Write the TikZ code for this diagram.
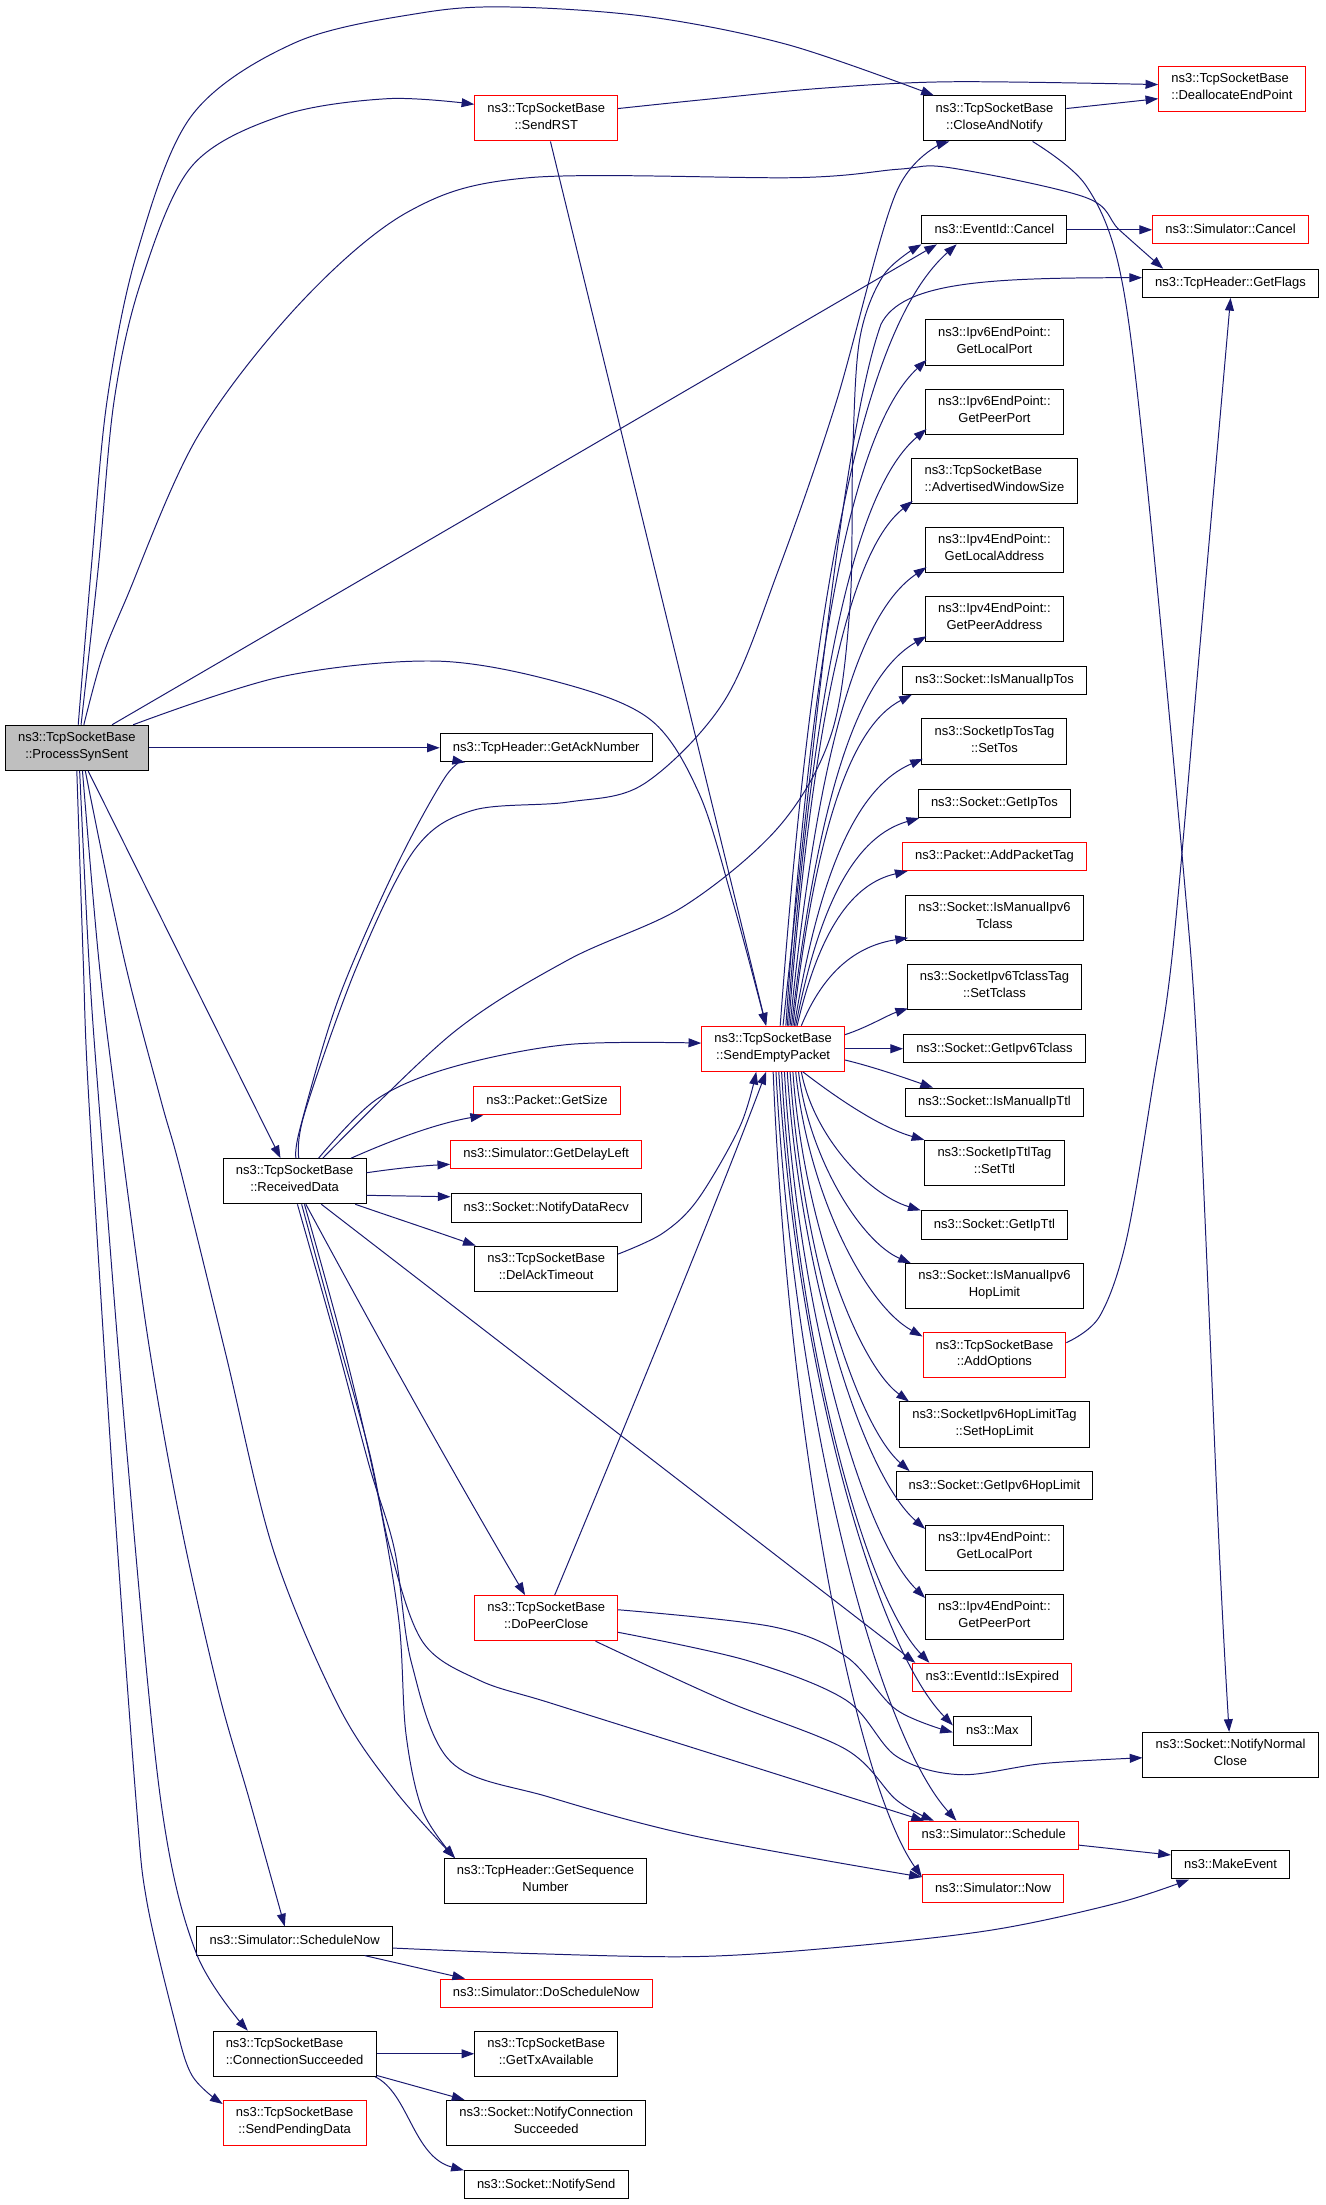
\documentclass[tikz,border=0pt]{standalone}
\usepackage{fontspec}
\setmainfont{Liberation Sans}
\usetikzlibrary{arrows.meta,calc}
\definecolor{edgecol}{HTML}{191970}
\definecolor{redline}{HTML}{FF0000}
\definecolor{pssfill}{HTML}{BFBFBF}
\begin{document}
\begin{tikzpicture}[x=1pt,y=-1pt,
  box/.style={draw=black, line width=0.7pt, fill=white, inner xsep=9pt, inner ysep=0pt,
    align=center, font=\fontsize{9.2pt}{12pt}\selectfont, execute at begin node=\strut},
  one/.style={box, minimum height=20pt},
  two/.style={box, minimum height=32pt},
  redb/.style={draw=redline},
  arr/.style={draw=edgecol, line width=0.7pt, -{Triangle[length=9pt,width=6.3pt]}},
  sm/.style={smooth, tension=0.55}]
\fill[white] (0,0) rectangle (940,1564.3);
\useasboundingbox (0,0) rectangle (940,1564.3);

% ---------- nodes ----------
\node[two, fill=pssfill] (pss) at (54.5,530.5) {ns3::TcpSocketBase\\\strut ::ProcessSynSent};
\node[two, redb] (sendrst) at (387.5,84) {ns3::TcpSocketBase\\\strut ::SendRST};
\node[two] (can) at (705.5,84) {ns3::TcpSocketBase\\\strut ::CloseAndNotify};
\node[two, redb, align=left] (dealloc) at (874,63) {ns3::TcpSocketBase\\\strut ::DeallocateEndPoint};
\node[one] (cancel) at (705.5,163) {ns3::EventId::Cancel};
\node[one, redb] (simcancel) at (873,163) {ns3::Simulator::Cancel};
\node[one] (getflags) at (873,201) {ns3::TcpHeader::GetFlags};
\node[two] (v6lp) at (705.5,243) {ns3::Ipv6EndPoint::\\\strut GetLocalPort};
\node[two] (v6pp) at (705.5,292) {ns3::Ipv6EndPoint::\\\strut GetPeerPort};
\node[two, align=left] (adv) at (705.5,341) {ns3::TcpSocketBase\\\strut ::AdvertisedWindowSize};
\node[two] (v4la) at (705.5,390) {ns3::Ipv4EndPoint::\\\strut GetLocalAddress};
\node[two] (v4pa) at (705.5,439) {ns3::Ipv4EndPoint::\\\strut GetPeerAddress};
\node[one] (ipmtos) at (705.5,482.5) {ns3::Socket::IsManualIpTos};
\node[two] (settos) at (705.5,526) {ns3::SocketIpTosTag\\\strut ::SetTos};
\node[one] (getiptos) at (705.5,570) {ns3::Socket::GetIpTos};
\node[one, redb] (addtag) at (705.5,607.6) {ns3::Packet::AddPacketTag};
\node[two] (ismv6tc) at (705.5,651) {ns3::Socket::IsManualIpv6\\\strut Tclass};
\node[two] (settc) at (705.5,700) {ns3::SocketIpv6TclassTag\\\strut ::SetTclass};
\node[one] (getv6tc) at (705.5,744) {ns3::Socket::GetIpv6Tclass};
\node[one] (ismttl) at (705.5,782) {ns3::Socket::IsManualIpTtl};
\node[two] (setttl) at (705.5,825) {ns3::SocketIpTtlTag\\\strut ::SetTtl};
\node[one] (getipttl) at (705.5,869) {ns3::Socket::GetIpTtl};
\node[two] (ismhl) at (705.5,912.5) {ns3::Socket::IsManualIpv6\\\strut HopLimit};
\node[two, redb] (addopt) at (705.5,961.5) {ns3::TcpSocketBase\\\strut ::AddOptions};
\node[two] (sethl) at (705.5,1010.6) {ns3::SocketIpv6HopLimitTag\\\strut ::SetHopLimit};
\node[one] (getv6hl) at (705.5,1054) {ns3::Socket::GetIpv6HopLimit};
\node[two] (v4lp) at (705.5,1098) {ns3::Ipv4EndPoint::\\\strut GetLocalPort};
\node[two] (v4pp) at (705.5,1147) {ns3::Ipv4EndPoint::\\\strut GetPeerPort};
\node[one, redb] (isexp) at (704,1190) {ns3::EventId::IsExpired};
\node[one] (max) at (704,1228) {ns3::Max};
\node[one, redb] (sched) at (705,1302) {ns3::Simulator::Schedule};
\node[one, redb] (now) at (704.5,1340) {ns3::Simulator::Now};
\node[two] (nnc) at (873,1245) {ns3::Socket::NotifyNormal\\\strut Close};
\node[one] (makeev) at (873,1323) {ns3::MakeEvent};
\node[two, redb] (sep) at (548.5,744) {ns3::TcpSocketBase\\\strut ::SendEmptyPacket};
\node[one] (getack) at (387.5,530.5) {ns3::TcpHeader::GetAckNumber};
\node[one, redb] (getsize) at (388,781) {ns3::Packet::GetSize};
\node[one, redb] (delayleft) at (387.5,819) {ns3::Simulator::GetDelayLeft};
\node[one] (ndr) at (387.5,857) {ns3::Socket::NotifyDataRecv};
\node[two] (delack) at (387.5,900) {ns3::TcpSocketBase\\\strut ::DelAckTimeout};
\node[two, redb] (dpc) at (387.5,1148) {ns3::TcpSocketBase\\\strut ::DoPeerClose};
\node[two] (seq) at (387,1334.5) {ns3::TcpHeader::GetSequence\\\strut Number};
\node[one, redb] (dosched) at (387.5,1414) {ns3::Simulator::DoScheduleNow};
\node[two] (txavail) at (387.5,1457) {ns3::TcpSocketBase\\\strut ::GetTxAvailable};
\node[two] (ncs) at (387.5,1506) {ns3::Socket::NotifyConnection\\\strut Succeeded};
\node[one] (nsend) at (387.5,1550) {ns3::Socket::NotifySend};
\node[two] (rd) at (209,838) {ns3::TcpSocketBase\\\strut ::ReceivedData};
\node[one] (schednow) at (209,1377) {ns3::Simulator::ScheduleNow};
\node[two, align=left] (connsucc) at (209,1457) {ns3::TcpSocketBase\\\strut ::ConnectionSucceeded};
\node[two, redb] (sendpend) at (209,1506) {ns3::TcpSocketBase\\\strut ::SendPendingData};

% ---------- helper coordinates ----------
\coordinate (pcS) at ($(pss.north)+(1,0)$);
\coordinate (pcE) at ($(can.north west)+(8,0)$);
\coordinate (psS) at ($(pss.north)+(3,0)$);
\coordinate (psE) at ($(sendrst.west)+(0,-10)$);
\coordinate (pgS) at ($(pss.north)+(5,0)$);
\coordinate (pgE) at ($(getflags.north west)+(15,0)$);
\coordinate (pepS) at ($(pss.north)+(40,0)$);
\coordinate (sepN1) at ($(sep.north)+(-5,0)$);
\coordinate (pqS) at ($(pss.south)+(6,0)$);
\coordinate (seqE) at ($(seq.north west)+(8,0)$);
\coordinate (pnS) at ($(pss.south)+(4,0)$);
\coordinate (pnE) at ($(schednow.north)+(-7,0)$);
\coordinate (pcsS) at ($(pss.south)+(2,0)$);
\coordinate (pcsE) at ($(connsucc.north west)+(25,0)$);
\coordinate (ppS) at (pss.south);
\coordinate (ppE) at ($(sendpend.north west)+(0,3)$);
\coordinate (sdS) at ($(sendrst.east)+(0,-7)$);
\coordinate (sdE) at ($(dealloc.west)+(0,-3)$);
\coordinate (cnS) at ($(can.south east)+(-24,0)$);
\coordinate (cnE) at ($(nnc.north)+(-1,0)$);
\coordinate (agS) at ($(addopt.east)+(0,-9)$);
\coordinate (rgS) at ($(rd.north)+(1,0)$);
\coordinate (rgE) at ($(getack.south west)+(18,0)$);
\coordinate (rcS) at ($(rd.north)+(3,0)$);
\coordinate (rcE) at ($(can.south west)+(19,0)$);
\coordinate (rkS) at ($(rd.north)+(20,0)$);
\coordinate (rsS) at ($(rd.north)+(17,0)$);
\coordinate (rsE) at ($(sep.west)+(0,-4)$);
\coordinate (rhS) at ($(rd.south)+(5,0)$);
\coordinate (rhE) at ($(sched.north west)+(11,0)$);
\coordinate (rnS) at ($(rd.south)+(2,0)$);
\coordinate (rnE) at ($(now.north west)+(0,2)$);
\coordinate (rqS) at ($(rd.south)+(7,0)$);
\coordinate (dmS) at ($(dpc.east)+(0,-6)$);
\coordinate (dmE) at ($(max.west)+(0,1)$);
\coordinate (dnS) at ($(dpc.east)+(0,10)$);
\coordinate (dnE) at ($(nnc.west)+(0,2)$);
\coordinate (dhS) at ($(dpc.south east)+(-16,0)$);
\coordinate (dhE) at ($(sched.north west)+(18,0)$);
\coordinate (daS) at ($(delack.north east)+(0,6)$);
\coordinate (daE) at ($(sep.south)+(-12,0)$);
\coordinate (smS) at ($(schednow.east)+(0,5)$);
\coordinate (smE) at ($(makeev.south west)+(13,0)$);

% ---------- edges from ProcessSynSent ----------
\draw[arr] plot[sm] coordinates {(pcS) (65,400) (76,284) (97,180) (136,82) (210,30) (300,9) (364,5) (461,12) (560,32) (pcE)};
\draw[arr] plot[sm] coordinates {(psS) (70,400) (81,284) (100,200) (136,118) (200,82) (275,70) (psE)};
\draw[arr] plot[sm] coordinates {(pgS) (72,468) (89,426) (140,310) (213,215) (290,150) (376,126) (566,126) (638,120) (674,119) (770,140) (794,163) (pgE)};
\draw[arr] ($(pss.north)+(25,0)$) -- ($(cancel.south west)+(11,0)$);
\draw[arr] plot[sm] coordinates {(pepS) (200,480) (310,469) (400,485) (462,511) (496,563) (520,640) (sepN1)};
\draw[arr] (pss.east) -- (getack.west);
\draw[arr] ($(pss.south)+(8,0)$) -- ($(rd.north)+(-10,0)$);
\draw[arr] plot[sm] coordinates {(pqS) (88,680) (114,780) (128,830) (160,960) (194,1100) (240,1210) (280,1270) (seqE)};
\draw[arr] plot[sm] coordinates {(pnS) (70,680) (82,780) (105,950) (128,1080) (155,1200) (177,1277) (pnE)};
\draw[arr] plot[sm] coordinates {(pcsS) (63,680) (70,780) (90,1030) (114,1277) (139,1385) (pcsE)};
\draw[arr] plot[sm] coordinates {(ppS) (59,680) (63,780) (80,1050) (96.5,1277) (104,1348) (123,1430) (136,1472) (ppE)};

% ---------- SendRST / CloseAndNotify / Cancel / AddOptions ----------
\draw[arr] plot[sm] coordinates {(sdS) (496,71) (583,62.6) (675,58) (sdE)};
\draw[arr] ($(sendrst.south)+(3,0)$) -- (sepN1);
\draw[arr] ($(can.east)+(0,-7)$) -- ($(dealloc.west)+(0,7)$);
\draw[arr] plot[sm] coordinates {(cnS) (770,131) (794,190) (811,317) (839,611) (850,760) (865,1100) (cnE)};
\draw[arr] (cancel.east) -- (simcancel.west);
\draw[arr] plot[sm] coordinates {(agS) (780,934) (799,880) (818,769) (832,674) (852,450) (getflags.south)};

% ---------- edges from ReceivedData ----------
\draw[arr] plot[sm] coordinates {(rgS) (213,800) (240,709) (281,615) (316,551) (rgE)};
\draw[arr] plot[sm] coordinates {(rcS) (216,790) (253,686) (294,603) (335,575) (403,569) (457,556) (514,497) (552,405) (593,286) (636,136) (rcE)};
\draw[arr] plot[sm] coordinates {(rkS) (321,733) (403,681) (485,643) (553,586) (590,520) (603,430) (605,320) (610,240) (627,195) (cancel.south west)};
\draw[arr] plot[sm] coordinates {(rsS) (267,780) (321,757) (403,741) (rsE)};
\draw[arr] ($(rd.north east)+(-11,0)$) .. controls (280,808) and (310,797) .. ($(getsize.south west)+(7,0)$);
\draw[arr] ($(rd.east)+(0,-6)$) .. controls (280,829) and (300,827) .. ($(delayleft.west)+(0,7)$);
\draw[arr] ($(rd.east)+(0,10)$) -- ($(ndr.west)+(0,-8)$);
\draw[arr] ($(rd.south east)+(-8,0)$) .. controls (280,864) and (310,874) .. ($(delack.north west)+(1,0)$);
\draw[arr] ($(rd.south)+(19,0)$) -- ($(isexp.north west)+(2,0)$);
\draw[arr] ($(rd.south)+(8,0)$) .. controls (290,990) and (345,1085) .. ($(dpc.north)+(-15,0)$);
\draw[arr] plot[sm] coordinates {(rhS) (240,950) (262,1030) (277,1100) (300,1165) (340,1192) (390,1208) (495,1241) (rhE)};
\draw[arr] plot[sm] coordinates {(rnS) (238,950) (262,1040) (280,1100) (292,1180) (320,1250) (390,1275) (495,1303) (rnE)};
\draw[arr] plot[sm] coordinates {(rqS) (245,960) (268,1060) (283,1150) (288,1230) (300,1285) (seqE)};

% ---------- DoPeerClose / DelAckTimeout ----------
\draw[arr] ($(dpc.north)+(6,0)$) .. controls (440,1020) and (510,850) .. ($(sep.south)+(-5,0)$);
\draw[arr] plot[sm] coordinates {(dmS) (548,1154) (600,1175) (636,1213) (dmE)};
\draw[arr] plot[sm] coordinates {(dnS) (530,1178) (600,1206) (636,1246) (681,1259) (741,1251) (dnE)};
\draw[arr] plot[sm] coordinates {(dhS) (513,1206) (600,1241) (636,1277) (dhE)};
\draw[arr] plot[sm] coordinates {(daS) (470,875) (495,851) (525,799) (daE)};

% ---------- ScheduleNow / Schedule / ConnectionSucceeded ----------
\draw[arr] ($(schednow.south east)+(-20,0)$) -- ($(dosched.north west)+(18,0)$);
\draw[arr] plot[sm] coordinates {(smS) (380,1386) (496,1388) (600,1381) (705,1369) (793,1350) (smE)};
\draw[arr] ($(sched.east)+(0,7)$) -- ($(makeev.west)+(0,-7)$);
\draw[arr] (connsucc.east) -- (txavail.west);
\draw[arr] ($(connsucc.south east)+(0,-1)$) -- ($(ncs.north west)+(13,0)$);
\draw[arr] ($(connsucc.south east)+(-1,0)$) .. controls (290,1485) and (293,1530) .. (nsend.north west);

% ---------- edges from SendEmptyPacket (upwards) ----------
\draw[arr] ($(sep.north)+(5,0)$) .. controls (578,395) and (616,229) .. ($(cancel.south west)+(25,0)$);
\draw[arr] ($(sep.north)+(7,0)$) .. controls (580,500) and (600,300) .. (625,230) .. controls (640,200) and (700,197) .. ($(getflags.west)+(0,-4)$);
\draw[arr] ($(sep.north)+(9,0)$) .. controls (577,444) and (607,302) .. ($(v6lp.south west)+(1,-4)$);
\draw[arr] ($(sep.north)+(10,0)$) .. controls (578,474) and (608,346) .. ($(v6pp.south west)+(1,-4)$);
\draw[arr] ($(sep.north)+(11,0)$) .. controls (577,503) and (604,390) .. ($(adv.south west)+(1,-2)$);
\draw[arr] ($(sep.north)+(12,0)$) .. controls (580,532) and (609,435) .. ($(v4la.south west)+(1,-4)$);
\draw[arr] ($(sep.north)+(13,0)$) .. controls (581,562) and (609,479) .. ($(v4pa.south west)+(1,-4)$);
\draw[arr] ($(sep.north)+(14,0)$) .. controls (579,586) and (604,515) .. ($(ipmtos.south west)+(7,0)$);
\draw[arr] ($(sep.north)+(15,0)$) .. controls (582,615) and (609,558) .. ($(settos.south west)+(1,-4)$);
\draw[arr] ($(sep.north)+(16,0)$) .. controls (582,638) and (608,593) .. ($(getiptos.south west)+(1,0)$);
\draw[arr] ($(sep.north)+(17,0)$) .. controls (581,661) and (604,627) .. ($(addtag.south west)+(4,0)$);
\draw[arr] ($(sep.north)+(20,0)$) .. controls (584,690) and (607,671) .. ($(ismv6tc.south west)+(2,-2)$);
\draw[arr] ($(sep.east)+(0,-10)$) .. controls (615,729) and (630,720) .. ($(settc.south west)+(1,-1)$);
\draw[arr] (sep.east) -- (getv6tc.west);
\draw[arr] ($(sep.east)+(0,8)$) .. controls (620,757) and (640,764) .. ($(ismttl.north west)+(20,0)$);
\draw[arr] ($(sep.south east)+(-30,0)$) .. controls (595,780) and (625,800) .. (setttl.north west);

% ---------- edges from SendEmptyPacket (downwards) ----------
\draw[arr] ($(sep.south)+(20,0)$) .. controls (577,805) and (615,847) .. (getipttl.north west);
\draw[arr] ($(sep.south)+(18,0)$) .. controls (574,822) and (611,881) .. ($(ismhl.north west)+(4,0)$);
\draw[arr] ($(sep.south)+(16,0)$) .. controls (573,845) and (613,925) .. ($(addopt.north west)+(0,3)$);
\draw[arr] ($(sep.south)+(14,0)$) .. controls (570,866) and (608,967) .. ($(sethl.north west)+(7,0)$);
\draw[arr] ($(sep.south)+(12,0)$) .. controls (569,888) and (607,1010) .. ($(getv6hl.north west)+(10,0)$);
\draw[arr] ($(sep.south)+(10,0)$) .. controls (568,906) and (612,1046) .. ($(v4lp.north west)+(0,3)$);
\draw[arr] ($(sep.south)+(8,0)$) .. controls (566,928) and (611,1089) .. ($(v4pp.north west)+(0,3)$);
\draw[arr] ($(sep.south)+(6,0)$) .. controls (565,949) and (612,1130) .. ($(isexp.north west)+(12,0)$);
\draw[arr] ($(sep.south)+(4,0)$) .. controls (565,969) and (621,1168) .. ($(max.west)+(0,-4)$);
\draw[arr] ($(sep.south)+(2,0)$) .. controls (563,999) and (621,1228) .. ($(sched.north west)+(34,0)$);
\draw[arr] (sep.south) .. controls (559,1017) and (606,1263) .. (rnE);
\end{tikzpicture}
\end{document}
